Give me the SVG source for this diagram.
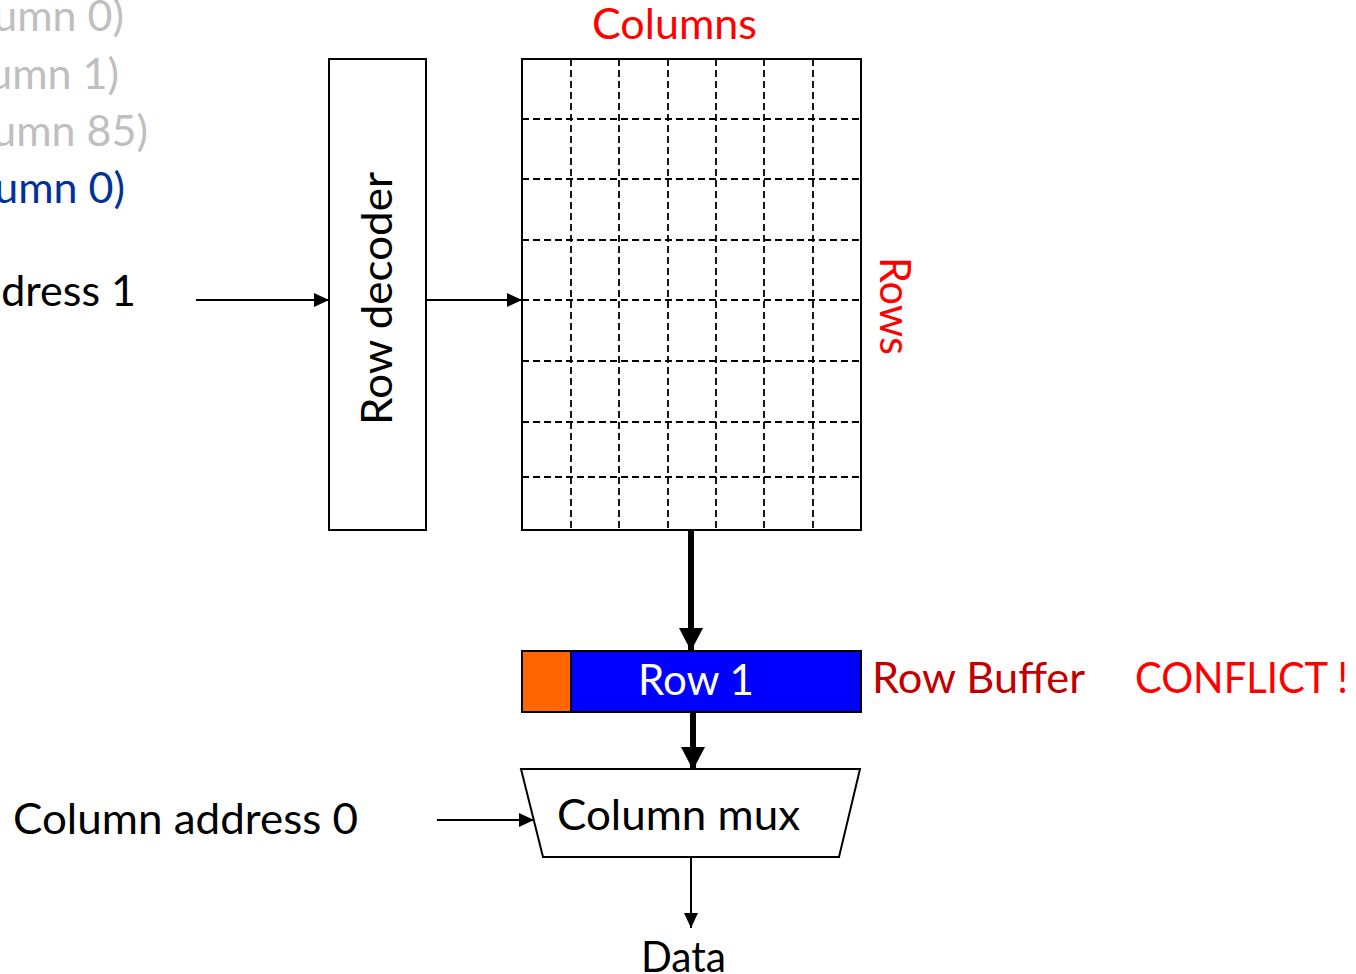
<svg xmlns="http://www.w3.org/2000/svg" width="1356" height="974" viewBox="0 0 1356 974">
<style>
text{font-family:Lato,"Open Sans","Liberation Sans",sans-serif;font-size:43px}
.blk{fill:#000}
.red{fill:#FF0000}
.dred{fill:#C00000}
.gray{fill:#BFBFBF}
.blue{fill:#003399}
.box{fill:#fff;stroke:#000;stroke-width:2}
.grid line{stroke:#000;stroke-width:1.8;stroke-dasharray:7 4}
.thin{stroke:#000;stroke-width:2;fill:none}
.thick{stroke:#000;stroke-width:6;fill:none}
</style>
<defs>
<marker id="ah" markerUnits="userSpaceOnUse" markerWidth="16" markerHeight="14" refX="15" refY="7" orient="auto"><path d="M0,0 L15,7 L0,14 z" fill="#000"/></marker>
<marker id="ahb" markerUnits="userSpaceOnUse" markerWidth="24" markerHeight="24" refX="23" refY="12" orient="auto"><path d="M0,0 L23,12 L0,24 z" fill="#000"/></marker>
</defs>
<rect width="1356" height="974" fill="#fff"/>

<g id="labels-left">
<text class="gray" x="124" y="31" text-anchor="end">umn 0)</text>
<text class="gray" x="119" y="89" text-anchor="end">umn 1)</text>
<text class="gray" x="148" y="146" text-anchor="end">umn 85)</text>
<text class="blue" x="125" y="203" text-anchor="end">umn 0)</text>
<text class="blk" x="136" y="306" text-anchor="end">dress 1</text>
</g>

<g id="row-decoder">
<rect class="box" x="329" y="59" width="97" height="471"/>
<text class="blk" transform="translate(392,425) rotate(-90)" textLength="253" lengthAdjust="spacingAndGlyphs">Row decoder</text>
</g>

<g id="array">
<rect class="box" x="522" y="59" width="339" height="471"/>
<g class="grid">
<line x1="571" y1="59" x2="571" y2="530"/>
<line x1="619" y1="59" x2="619" y2="530"/>
<line x1="668" y1="59" x2="668" y2="530"/>
<line x1="716" y1="59" x2="716" y2="530"/>
<line x1="764" y1="59" x2="764" y2="530"/>
<line x1="813" y1="59" x2="813" y2="530"/>
<line x1="522" y1="119" x2="861" y2="119"/>
<line x1="522" y1="179" x2="861" y2="179"/>
<line x1="522" y1="240" x2="861" y2="240"/>
<line x1="522" y1="300" x2="861" y2="300"/>
<line x1="522" y1="361" x2="861" y2="361"/>
<line x1="522" y1="422" x2="861" y2="422"/>
<line x1="522" y1="477" x2="861" y2="477"/>
</g>
<text class="red" x="592" y="39" font-size="41" textLength="165" lengthAdjust="spacingAndGlyphs">Columns</text>
<text class="red" transform="translate(880,257) rotate(90)" font-size="41" textLength="98" lengthAdjust="spacingAndGlyphs">Rows</text>
</g>

<g id="row-buffer">
<rect x="522" y="651" width="339" height="61" fill="#0000FF" stroke="#000" stroke-width="2"/>
<rect x="522" y="651" width="49" height="61" fill="#FF6600" stroke="#000" stroke-width="2"/>
<text x="638" y="695" fill="#fff" textLength="116" lengthAdjust="spacingAndGlyphs">Row 1</text>
<text class="dred" x="872" y="693" textLength="213" lengthAdjust="spacingAndGlyphs">Row Buffer</text>
<text class="red" x="1135" y="693" textLength="213" lengthAdjust="spacingAndGlyphs">CONFLICT !</text>
</g>

<g id="column-mux">
<polygon points="521,769 860,769 839,857 543,857" fill="#fff" stroke="#000" stroke-width="2"/>
<text class="blk" x="557" y="830" textLength="243" lengthAdjust="spacingAndGlyphs">Column mux</text>
</g>

<g id="column-address">
<text class="blk" x="13" y="834" textLength="345" lengthAdjust="spacingAndGlyphs">Column address 0</text>
</g>

<g id="data">
<text class="blk" x="641" y="972" textLength="85" lengthAdjust="spacingAndGlyphs">Data</text>
</g>

<g id="connectors">
<line class="thin" x1="196" y1="300" x2="329" y2="300" marker-end="url(#ah)"/>
<line class="thin" x1="426" y1="300" x2="522" y2="300" marker-end="url(#ah)"/>
<line class="thick" x1="691" y1="530" x2="691" y2="651" marker-end="url(#ahb)"/>
<line class="thick" x1="693" y1="712" x2="693" y2="770" marker-end="url(#ahb)"/>
<line class="thin" x1="437" y1="820" x2="534" y2="820" marker-end="url(#ah)"/>
<line class="thin" x1="691" y1="857" x2="691" y2="928" marker-end="url(#ah)"/>
</g>
</svg>
